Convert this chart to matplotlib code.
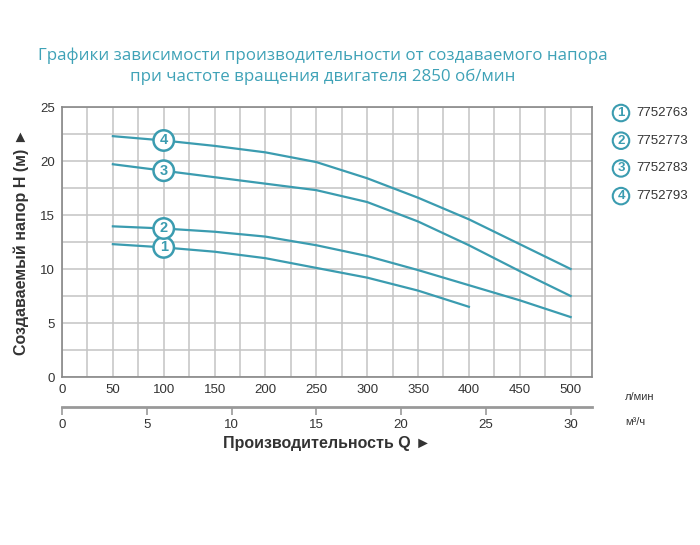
import numpy as np
import matplotlib.pyplot as plt

plt.rcParams['font.family'] = ['Liberation Sans', 'DejaVu Sans']

teal = '#3b9cb0'
grey_txt = '#333333'

# flow, l/min
q = [50, 100, 150, 200, 250, 300, 350, 400, 450, 500]
h1 = [12.3, 12.0, 11.6, 11.0, 10.1, 9.2, 8.0, 6.5]
h2 = [13.95, 13.75, 13.45, 13.0, 12.2, 11.2, 9.9, 8.5, 7.1, 5.55]
h3 = [19.7, 19.1, 18.5, 17.9, 17.3, 16.2, 14.4, 12.2, 9.8, 7.5]
h4 = [22.3, 21.9, 21.4, 20.8, 19.9, 18.4, 16.6, 14.6, 12.3, 10.0]
curves = [h1, h2, h3, h4]
labels = ['1', '2', '3', '4']
models = ['7752763', '7752773', '7752783', '7752793']
label_q = 100

fig = plt.figure(figsize=(7, 5.45), dpi=100)
ax = fig.add_axes([62 / 700, 1 - 377 / 545, 530 / 700, 270 / 545])

for h, lab in zip(curves, labels):
    qq = q[:len(h)]
    ax.plot(qq, h, color=teal, lw=1.6, zorder=3)
    hy = np.interp(label_q, qq, h)
    ax.text(label_q, hy, lab, ha='center', va='center', fontsize=10.5,
            fontweight='bold', color=teal, zorder=5,
            bbox=dict(boxstyle='circle,pad=0.22', fc='white', ec=teal, lw=1.8))

ax.set_xlim(0, 521)
ax.set_ylim(0, 25)
ax.set_xticks(np.arange(0, 501, 50))
ax.set_xticks(np.arange(0, 521, 25), minor=True)
ax.set_yticks(np.arange(0, 26, 5))
ax.set_yticks(np.arange(0, 25.1, 2.5), minor=True)
ax.grid(True, which='both', color='#c4c4c4', lw=1.1, zorder=0)
ax.tick_params(which='both', length=0, labelsize=9.5, colors=grey_txt, pad=5)
for s in ax.spines.values():
    s.set_color('#888888')
    s.set_linewidth(1.2)

ax.set_ylabel('Создаваемый напор H (м) ►', fontsize=11.5, fontweight='bold',
              color=grey_txt, labelpad=8)

# second flow scale, m3/h
sec = ax.secondary_xaxis(-0.111, functions=(lambda x: x * 0.06, lambda x: x / 0.06))
sec.set_xticks(np.arange(0, 31, 5))
sec.spines['bottom'].set_color('#999999')
sec.spines['bottom'].set_linewidth(2)
sec.tick_params(length=6, width=1.2, color='#999999', labelsize=9.5,
                labelcolor=grey_txt, pad=3)
sec.set_xlabel('Производительность Q ►', fontsize=11.5, fontweight='bold',
               color=grey_txt, labelpad=3)

fig.text(625 / 700, 1 - 397 / 545, 'л/мин', fontsize=8, color=grey_txt,
         va='center')
fig.text(625 / 700, 1 - 422 / 545, 'м³/ч', fontsize=8, color=grey_txt,
         va='center')

for i, (lab, m) in enumerate(zip(labels, models)):
    y = 1 - (113 + i * 27.7) / 545
    fig.text(621 / 700, y, lab, ha='center', va='center', fontsize=9.5,
             fontweight='bold', color=teal,
             bbox=dict(boxstyle='circle,pad=0.17', fc='white', ec=teal, lw=1.5))
    fig.text(636 / 700, y, m, ha='left', va='center', fontsize=9.5,
             color=grey_txt)

fig.text(323 / 700, 1 - 56 / 545,
         'Графики зависимости производительности от создаваемого напора',
         ha='center', va='center', fontsize=12.2, color='#3fa2b7',
         family=['Open Sans', 'DejaVu Sans'])
fig.text(323 / 700, 1 - 77 / 545,
         'при частоте вращения двигателя 2850 об/мин',
         ha='center', va='center', fontsize=12.2, color='#3fa2b7',
         family=['Open Sans', 'DejaVu Sans'])

fig.savefig('out.png', dpi=100, facecolor='white')
